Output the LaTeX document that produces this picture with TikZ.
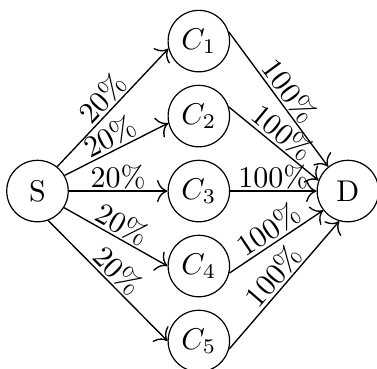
\documentclass[tikz,border=0pt]{standalone}
\usepackage{amssymb, amsmath}
\usepackage{tikz}
\usetikzlibrary{arrows.meta}

\begin{document}
\begin{tikzpicture}[
   x=1pt, y=1pt,
   nodecirc/.style={circle, draw=black, line width=0.4, text=black,
                    inner sep=1, minimum size=20.5pt},
   flow/.style={-{To[scale=1.35]}, line width=0.45},
   pct/.style={midway, sloped, above, inner sep=0.5}
  ]

  % Node Spacing
  \pgfmathsetmacro{\dx}{53.8}
  \pgfmathsetmacro{\dy}{25}

  \useasboundingbox (-12.5, -59.3) rectangle (113.2, 63.7);

  \node (S) at (0, 0) [nodecirc] { S };
  \foreach \i in {1,...,5} {
    \node (C\i) at (\dx, {(3 - \i) * \dy}) [nodecirc] { $C_{\i}$ };
  }
  \node (D) at (103.5, 0) [nodecirc] { D };

  % source side: start angle on S / end angle on C_i
  \foreach \i/\a/\b in {1/51/194, 2/30/193, 3/0/180, 4/-32/180, 5/-70/180} {
    \draw[flow] (S.\a) -- (C\i.\b) node[pct] {20\%};
  }
  % sink side: start angle on C_i / end angle on D
  \foreach \i/\a/\b in {1/17/129, 2/17/160, 3/0/180, 4/-13/218, 5/-15/254} {
    \draw[flow] (C\i.\a) -- (D.\b) node[pct] {100\%};
  }

\end{tikzpicture}
\end{document}
